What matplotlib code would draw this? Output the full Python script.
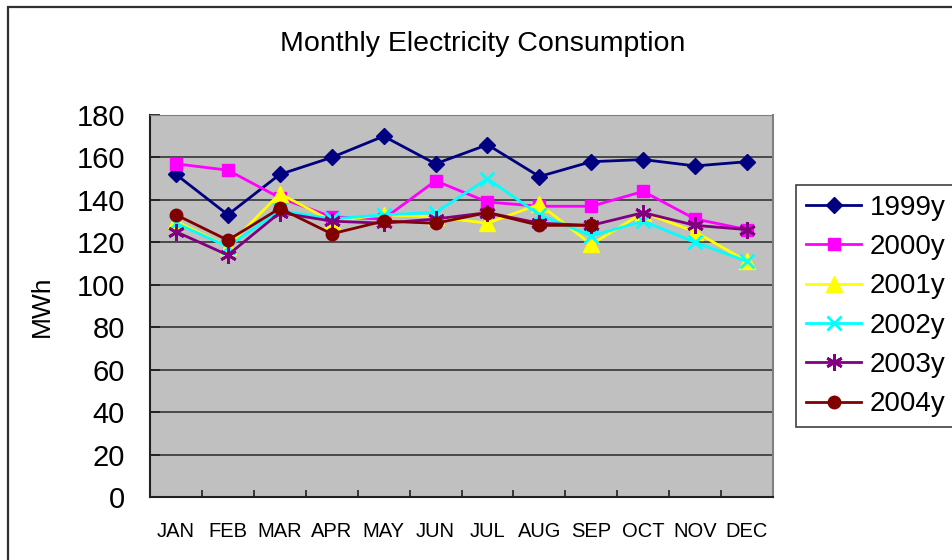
import matplotlib.pyplot as plt
import matplotlib.patches as patches
import numpy as np

plt.rcParams['font.family'] = ['Liberation Sans', 'DejaVu Sans']

months = ['JAN', 'FEB', 'MAR', 'APR', 'MAY', 'JUN',
          'JUL', 'AUG', 'SEP', 'OCT', 'NOV', 'DEC']

# readings in MWh, taken off the chart
y1999 = [152, 133, 152, 160, 170, 157, 166, 151, 158, 159, 156, 158]
y2000 = [157, 154, 141, 132, 131, 149, 139, 137, 137, 144, 131, 126]
y2001 = [130, 118, 143, 130, 133, 132, 129, 138, 119, 134, 125, 111]
y2002 = [129, 118, 135, 131, 133, 134, 150, 133, 123, 130, 120, 111]
y2003 = [125, 114, 134, 130, 129, 131, 134, 129, 128, 134, 128, 126]
y2004 = [133, 121, 136, 124, 130, 129, 134, 128, 128, np.nan, np.nan, np.nan]

series = [
  ('1999y', y1999, '#000080', 'D', 8),
  ('2000y', y2000, '#FF00FF', 's', 9),
  ('2001y', y2001, '#FFFF00', '^', 11),
  ('2002y', y2002, '#00FFFF', 'x', 10),
  ('2003y', y2003, '#800080', (6, 2, 0), 12),
  ('2004y', y2004, '#800000', 'o', 9),
]


def main():
  fig = plt.figure(figsize=(9.52, 5.6), dpi=100)
  ax = fig.add_axes([150/952, 63/560, 623/952, 382/560])
  ax.set_facecolor('#C0C0C0')

  x = np.arange(1, 13)
  for name, vals, col, mk, ms in series:
    mew = 2 if mk in ('x', (6, 2, 0)) else 1
    ax.plot(x, vals, color=col, lw=2, marker=mk, markersize=ms,
            markerfacecolor=col, markeredgecolor=col, markeredgewidth=mew,
            label=name)

  ax.set_xlim(0.5, 12.5)
  ax.set_ylim(0, 180)
  ax.set_yticks(range(0, 181, 20))
  ax.yaxis.grid(True, color='#404040', lw=1.3)
  ax.set_axisbelow(True)
  ax.tick_params(axis='y', direction='in', length=7, width=1.3,
                 labelsize=21, pad=18, colors='#202020', labelcolor='black')
  ax.set_xticks(x)
  ax.set_xticklabels(months)
  ax.set_xticks(np.arange(0.5, 13, 1), minor=True)
  ax.tick_params(axis='x', which='major', length=0, labelsize=14.5, pad=18)
  ax.tick_params(axis='x', which='minor', direction='in', length=5,
                 width=1.2, colors='#202020')

  ax.spines['left'].set_color('#202020')
  ax.spines['bottom'].set_color('#202020')
  ax.spines['left'].set_linewidth(1.5)
  ax.spines['bottom'].set_linewidth(1.5)
  ax.spines['top'].set_color('#808080')
  ax.spines['right'].set_color('#808080')
  ax.spines['right'].set_linewidth(1.5)

  ax.set_ylabel('MWh', fontsize=19, labelpad=16)
  fig.text(483/952, 1 - 44/560, 'Monthly Electricity Consumption',
           fontsize=20.5, ha='center', va='center')

  leg = ax.legend(loc='upper left', bbox_to_anchor=(796/952, 1 - 185/560),
                  bbox_transform=fig.transFigure, fontsize=20, frameon=True,
                  fancybox=False, edgecolor='#404040', framealpha=1,
                  labelspacing=0.48, handlelength=2.0, handletextpad=0.3,
                  borderpad=0.35, borderaxespad=0)
  leg.get_frame().set_linewidth(1.2)

  # outer chart border, cut off at right and bottom
  border = patches.Rectangle((8/952, -0.05), 1.0, 1 - 7/560 + 0.05,
                             transform=fig.transFigure, fill=False,
                             edgecolor='#303030', lw=1.6, clip_on=False)
  fig.patches.append(border)

  fig.savefig('out.png', dpi=100)


if __name__ == '__main__':
  main()
